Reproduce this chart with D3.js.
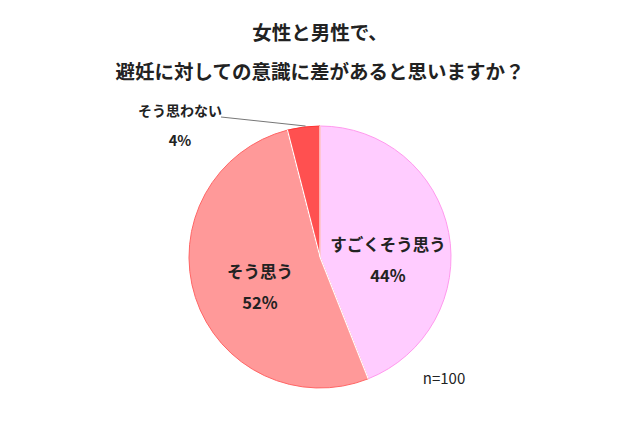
<!DOCTYPE html>
<html>
<head>
<meta charset="utf-8">
<script src="https://cdn.jsdelivr.net/npm/d3@7"></script>
<style>
body { margin: 0; background: #fff; }
svg text { font-family: "Noto Sans CJK JP", "Noto Sans", sans-serif; fill: #222; }
</style>
</head>
<body>
<script>
const WIDTH = 640;
const HEIGHT = 426;
const CX = 320, CY = 257, RADIUS = 131;

var titleLines = ['女性と男性で、', '避妊に対しての意識に差があると思いますか？'];
var categories = ['すごくそう思う', 'そう思う', 'そう思わない'];
var values = [44, 52, 4];
var colors = ['#ffccff', '#ff9999', '#ff5050'];
var strokes = ['#ff99ee', '#ff6666', '#ff3333'];

var svg = d3.select('body').append('svg')
	.attr('width', WIDTH)
	.attr('height', HEIGHT);

svg.selectAll('text.title')
	.data(titleLines)
	.enter()
	.append('text')
	.classed('title', true)
	.attr('x', WIDTH/2)
	.attr('y', function(d, i){ return 40 + i*39; })
	.attr('text-anchor', 'middle')
	.attr('font-size', 19.5)
	.attr('font-weight', 'bold')
	.text(function(d){ return d; });

var pie = d3.pie().sort(null).value(function(d){ return d; });
var arcs = pie(values);
var arc = d3.arc().innerRadius(0).outerRadius(RADIUS);

var g = svg.append('g').attr('transform', 'translate(' + CX + ',' + CY + ')');

g.selectAll('path')
	.data(arcs)
	.enter()
	.append('path')
	.attr('d', arc)
	.attr('fill', function(d, i){ return colors[i]; })
	.attr('stroke', function(d, i){ return strokes[i]; })
	.attr('stroke-width', 1);

// thin white separators between slices
g.selectAll('line.sep')
	.data(arcs)
	.enter()
	.append('line')
	.classed('sep', true)
	.attr('x1', 0).attr('y1', 0)
	.attr('x2', function(d){ return RADIUS * Math.sin(d.startAngle); })
	.attr('y2', function(d){ return -RADIUS * Math.cos(d.startAngle); })
	.attr('stroke', '#fff')
	.attr('stroke-width', 1.2);

// inside labels for the two big slices
var labelPos = [[68, -6], [-60, 21]];
[0, 1].forEach(function(i){
	var p = labelPos[i];
	g.append('text')
		.attr('x', p[0]).attr('y', p[1])
		.attr('text-anchor', 'middle')
		.attr('font-size', 16.5)
		.attr('font-weight', 'bold')
		.text(categories[i]);
	g.append('text')
		.attr('x', p[0]).attr('y', p[1] + 31)
		.attr('text-anchor', 'middle')
		.attr('font-size', 16.5)
		.attr('font-weight', 'bold')
		.text(values[i] + '%');
});

// outside label with leader line for the small slice
var small = arcs[2];
var mid = (small.startAngle + small.endAngle) / 2;
g.append('line')
	.attr('x1', RADIUS * Math.sin(mid) + 2)
	.attr('y1', -RADIUS * Math.cos(mid) - 1)
	.attr('x2', -99)
	.attr('y2', -140)
	.attr('stroke', '#777')
	.attr('stroke-width', 1);
g.append('text')
	.attr('x', -140).attr('y', -141)
	.attr('text-anchor', 'middle')
	.attr('font-size', 14)
	.attr('font-weight', 'bold')
	.text(categories[2]);
g.append('text')
	.attr('x', -140).attr('y', -111)
	.attr('text-anchor', 'middle')
	.attr('font-size', 14.5)
	.attr('font-weight', 'bold')
	.text(values[2] + '%');

svg.append('text')
	.attr('x', 444).attr('y', 384)
	.attr('text-anchor', 'middle')
	.attr('font-size', 15)
	.text('n=100');
</script>
</body>
</html>
